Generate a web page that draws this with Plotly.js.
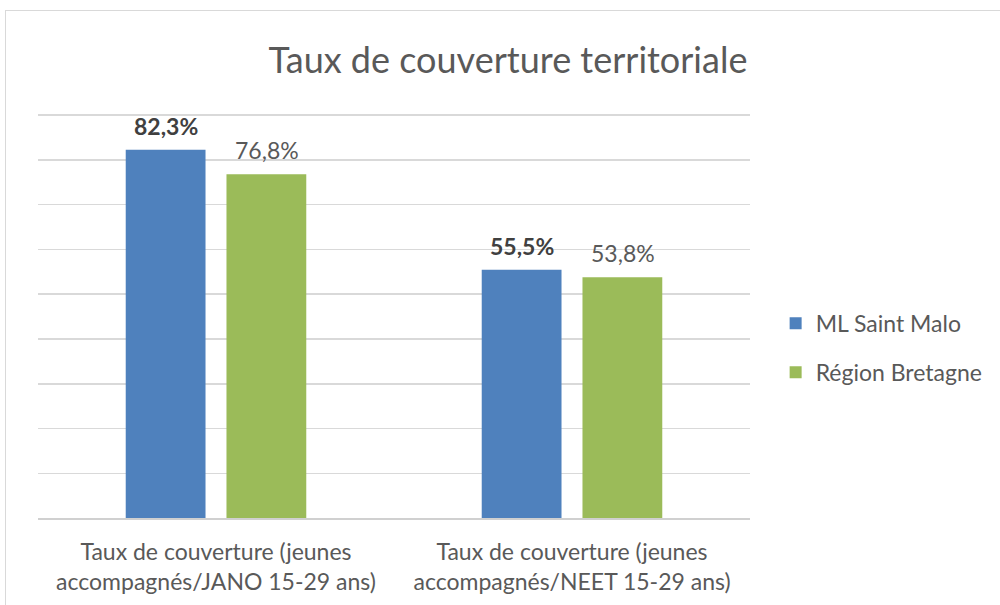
<!DOCTYPE html>
<html><head><meta charset="utf-8">
<script src="https://cdn.plot.ly/plotly-3.0.1.min.js"></script>
<style>
html,body{margin:0;padding:0;background:#fff;}
#wrap{position:relative;width:1000px;height:605px;overflow:hidden;}
#chart{position:absolute;left:0;top:0;width:1000px;height:605px;}
#frame{position:absolute;left:5px;top:10px;width:1100px;height:700px;border:1.5px solid #d9d9d9;pointer-events:none;}
</style></head>
<body><div id="wrap"><div id="chart"></div><div id="frame"></div></div>
<script>
const categories = ["Taux de couverture (jeunes<br>accompagnés/JANO 15-29 ans)", "Taux de couverture (jeunes<br>accompagnés/NEET 15-29 ans)"];
const seriesNames = ["ML Saint Malo", "Région Bretagne"];
const mlSaintMalo = [82.3, 55.5];
const regionBretagne = [76.8, 53.8];
const colors = ["#4F81BD", "#9BBB59"];
const font = "Lato, 'Open Sans', sans-serif";
const txt = "#595959";

const traces = [mlSaintMalo, regionBretagne].map((vals, i) => ({
  type: "bar", x: categories, y: vals, name: seriesNames[i],
  marker: {color: colors[i]}, legendgroup: "g" + i,
  hoverinfo: "skip"
}));

const annotations = [];
[mlSaintMalo, regionBretagne].forEach((vals, i) => {
  vals.forEach((v, j) => {
    const s = v.toFixed(1).replace(".", ",") + "%";
    annotations.push({
      x: categories[j], y: v, xref: "x", yref: "y",
      text: i === 0 ? "<b>" + s + "</b>" : s,
      showarrow: false, xshift: i === 0 ? -50.5 : 50.5, yshift: 24,
      font: {family: font, size: 23, color: i === 0 ? "#404040" : txt}
    });
  });
});

const layout = {
  width: 1000, height: 605,
  margin: {l: 38, r: 248, t: 113, b: 87},
  paper_bgcolor: "#fff", plot_bgcolor: "#fff",
  title: {text: "Taux de couverture territoriale", xref: "container", x: 0.508, xanchor: "center",
          yref: "container", y: 0.9, yanchor: "middle",
          font: {family: font, size: 36, color: txt}},
  barmode: "group", bargap: 0.434, bargroupgap: 0.208,
  xaxis: {showline: true, linecolor: "#d0d0d0", linewidth: 1.5, ticks: "outside", ticklen: 13,
          tickcolor: "rgba(0,0,0,0)", tickfont: {family: font, size: 23, color: txt}, fixedrange: true},
  yaxis: {range: [0, 90.5], dtick: 10, showticklabels: false, gridcolor: "#d9d9d9", gridwidth: 1.5,
          zeroline: false, fixedrange: true},
  legend: {x: 1.036, xref: "paper", xanchor: "left", y: 0.42, yanchor: "middle",
           traceorder: "grouped", tracegroupgap: 16,
           font: {family: font, size: 23, color: txt}, itemwidth: 30},
  annotations: annotations,
  showlegend: true
};
Plotly.newPlot("chart", traces, layout, {displayModeBar: false, staticPlot: true});
</script></body></html>
